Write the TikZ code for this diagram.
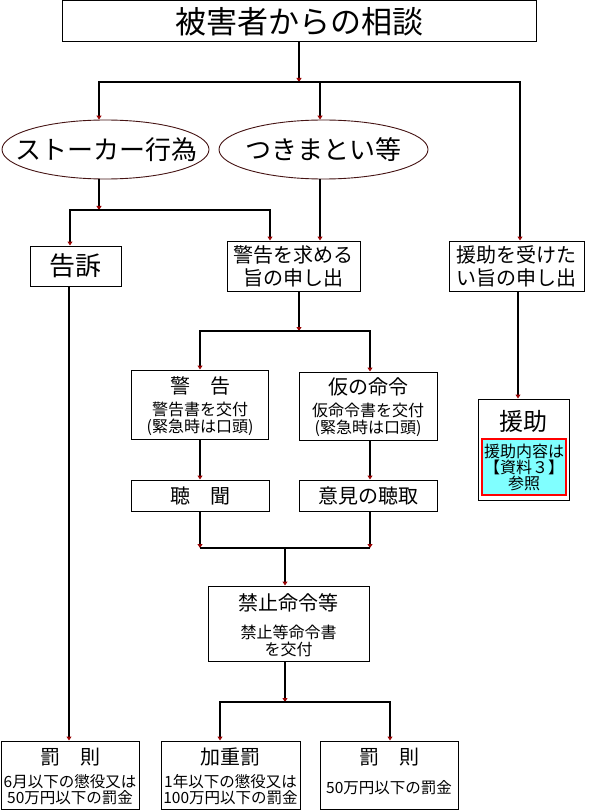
\documentclass[tikz,border=0pt]{standalone}
\usepackage{fontspec}
\setmainfont{Noto Sans CJK JP}
\usetikzlibrary{arrows.meta,shapes.geometric}
\definecolor{tipred}{RGB}{150,0,0}
\definecolor{ovalline}{RGB}{70,20,20}
\definecolor{aqua}{RGB}{128,255,255}
\begin{document}
\begin{tikzpicture}[x=1pt,y=-1pt,
  box/.style={draw=black,line width=1pt,fill=white,inner sep=0pt,rectangle,align=center},
  oval/.style={draw=ovalline,line width=0.9pt,fill=white,inner sep=0pt,ellipse},
  txt/.style={inner sep=0pt,align=center},
  ln/.style={draw=black,line width=1.8pt},
  arr/.style={ln,-{Triangle[length=4pt,width=5pt,color=tipred]}},
  f31/.style={font=\fontsize{31}{34}\selectfont},
  f26/.style={font=\fontsize{26}{29}\selectfont},
  f24/.style={font=\fontsize{24}{27}\selectfont},
  f20/.style={font=\fontsize{20}{23}\selectfont},
  f16/.style={font=\fontsize{16}{17}\selectfont},
  f15/.style={font=\fontsize{15.5}{16}\selectfont}]
\useasboundingbox (0,0) rectangle (591,810);
\fill[white] (0,0) rectangle (591,810);

% nodes
\node[box,f31,minimum width=474pt,minimum height=41pt] (top) at (299,21.5) {被害者からの相談};
\node[oval,minimum width=207pt,minimum height=59pt] (e1) at (105.5,149.5) {};
\node[txt,f26] (e1T) at (106,150) {ストーカー行為};
\node[oval,minimum width=209pt,minimum height=59pt] (e2) at (323.5,149.5) {};
\node[txt,f26] (e2T) at (323.5,150) {つきまとい等};
\node[box,f26,minimum width=91pt,minimum height=40pt] (kokuso) at (75.5,266) {告訴};
\node[box,f20,minimum width=133pt,minimum height=50pt] (kreq) at (293.5,266) {警告を求める\\旨の申し出};
\node[box,f20,minimum width=135pt,minimum height=50pt] (enjoReq) at (516.5,266) {援助を受けた\\い旨の申し出};

\node[box,minimum width=137pt,minimum height=69pt] (keikoku) at (200,404.5) {};
\node[txt,f20] (keikokuT) at (200,386) {警\hspace{1em}告};
\node[txt,f16] (keikokuS) at (200,419) {警告書を交付\\(緊急時は口頭)};

\node[box,minimum width=138pt,minimum height=68pt] (kari) at (368,406) {};
\node[txt,f20] (kariT) at (368,387) {仮の命令};
\node[txt,f16] (kariS) at (368,420) {仮命令書を交付\\(緊急時は口頭)};

\node[box,f20,minimum width=138pt,minimum height=31pt] (choumon) at (200,495.5) {聴\hspace{1em}聞};
\node[box,f20,minimum width=138pt,minimum height=31pt] (iken) at (368,495.5) {意見の聴取};

\node[box,minimum width=161pt,minimum height=75pt] (kinshi) at (288.5,623.5) {};
\node[txt,f20] (kinshiT) at (288.5,603) {禁止命令等};
\node[txt,f16] (kinshiS) at (288.5,641) {禁止等命令書\\を交付};

\node[box,minimum width=91pt,minimum height=101pt] (enjo) at (523.5,449.5) {};
\node[txt,f24] (enjoT) at (523.5,421) {援助};
\node[draw=red,line width=2pt,fill=aqua,inner sep=0pt,align=center,minimum width=84pt,minimum height=56pt,font=\fontsize{16}{16}\selectfont] (enjoIn) at (524,467) {援助内容は\\【資料３】\\参照};

\node[box,minimum width=138pt,minimum height=68pt] (batsu1) at (70,775) {};
\node[txt,f20] (batsu1T) at (70,757) {罰\hspace{1em}則};
\node[txt,f15] (batsu1S) at (70,790) {6月以下の懲役又は\\50万円以下の罰金};

\node[box,minimum width=139pt,minimum height=68pt] (kajuu) at (230.5,775) {};
\node[txt,f20] (kajuuT) at (230.5,757) {加重罰};
\node[txt,f15] (kajuuS) at (230.5,790) {1年以下の懲役又は\\100万円以下の罰金};

\node[box,minimum width=138pt,minimum height=68pt] (batsu2) at (389,775) {};
\node[txt,f20] (batsu2T) at (389,757) {罰\hspace{1em}則};
\node[txt,f15] (batsu2S) at (389,788) {50万円以下の罰金};

% junctions
\coordinate (j1) at (299,82);
\coordinate (j2) at (99,210);
\coordinate (j3) at (299,331);
\coordinate (j4L) at (200,548);
\coordinate (j4R) at (370,548);
\coordinate (j4) at (285,548);
\coordinate (j5) at (285,702);

% connectors
\draw[arr] (top.south) -- (j1);
\draw[arr] (j1) -| ([xshift=-6.5pt]e1.north);
\draw[arr] (j1) -| ([xshift=-3.5pt]e2.north);
\draw[arr] (j1) -| ([xshift=3.5pt]enjoReq.north);

\draw[arr] ([xshift=-6.5pt]e1.south) -- (j2);
\draw[arr] (j2) -| ([xshift=-5.5pt]kokuso.north);
\draw[arr] (j2) -| ([xshift=-23.5pt]kreq.north);
\draw[arr] ([xshift=-3.5pt]e2.south) -- ([xshift=26.5pt]kreq.north);

\draw[arr] ([xshift=5.5pt]kreq.south) -- (j3);
\draw[arr] (j3) -| (keikoku.north);
\draw[arr] (j3) -| ([xshift=2pt]kari.north);

\draw[arr] (keikoku.south) -- (choumon.north);
\draw[arr] ([xshift=2pt]kari.south) -- ([xshift=2pt]iken.north);

\draw[arr] (choumon.south) -- (j4L);
\draw[arr] ([xshift=2pt]iken.south) -- (j4R);
\draw[ln] (j4L) -- (j4R);
\draw[arr] (j4) -- ([xshift=-3.5pt]kinshi.north);

\draw[arr] ([xshift=-3.5pt]kinshi.south) -- (j5);
\draw[arr] (j5) -| ([xshift=-10.5pt]kajuu.north);
\draw[arr] (j5) -| ([xshift=1pt]batsu2.north);

\draw[arr] ([xshift=-6.5pt]kokuso.south) -- ([xshift=-1pt]batsu1.north);
\draw[arr] ([xshift=1.5pt]enjoReq.south) -- ([xshift=-5.5pt]enjo.north);
\end{tikzpicture}
\end{document}
